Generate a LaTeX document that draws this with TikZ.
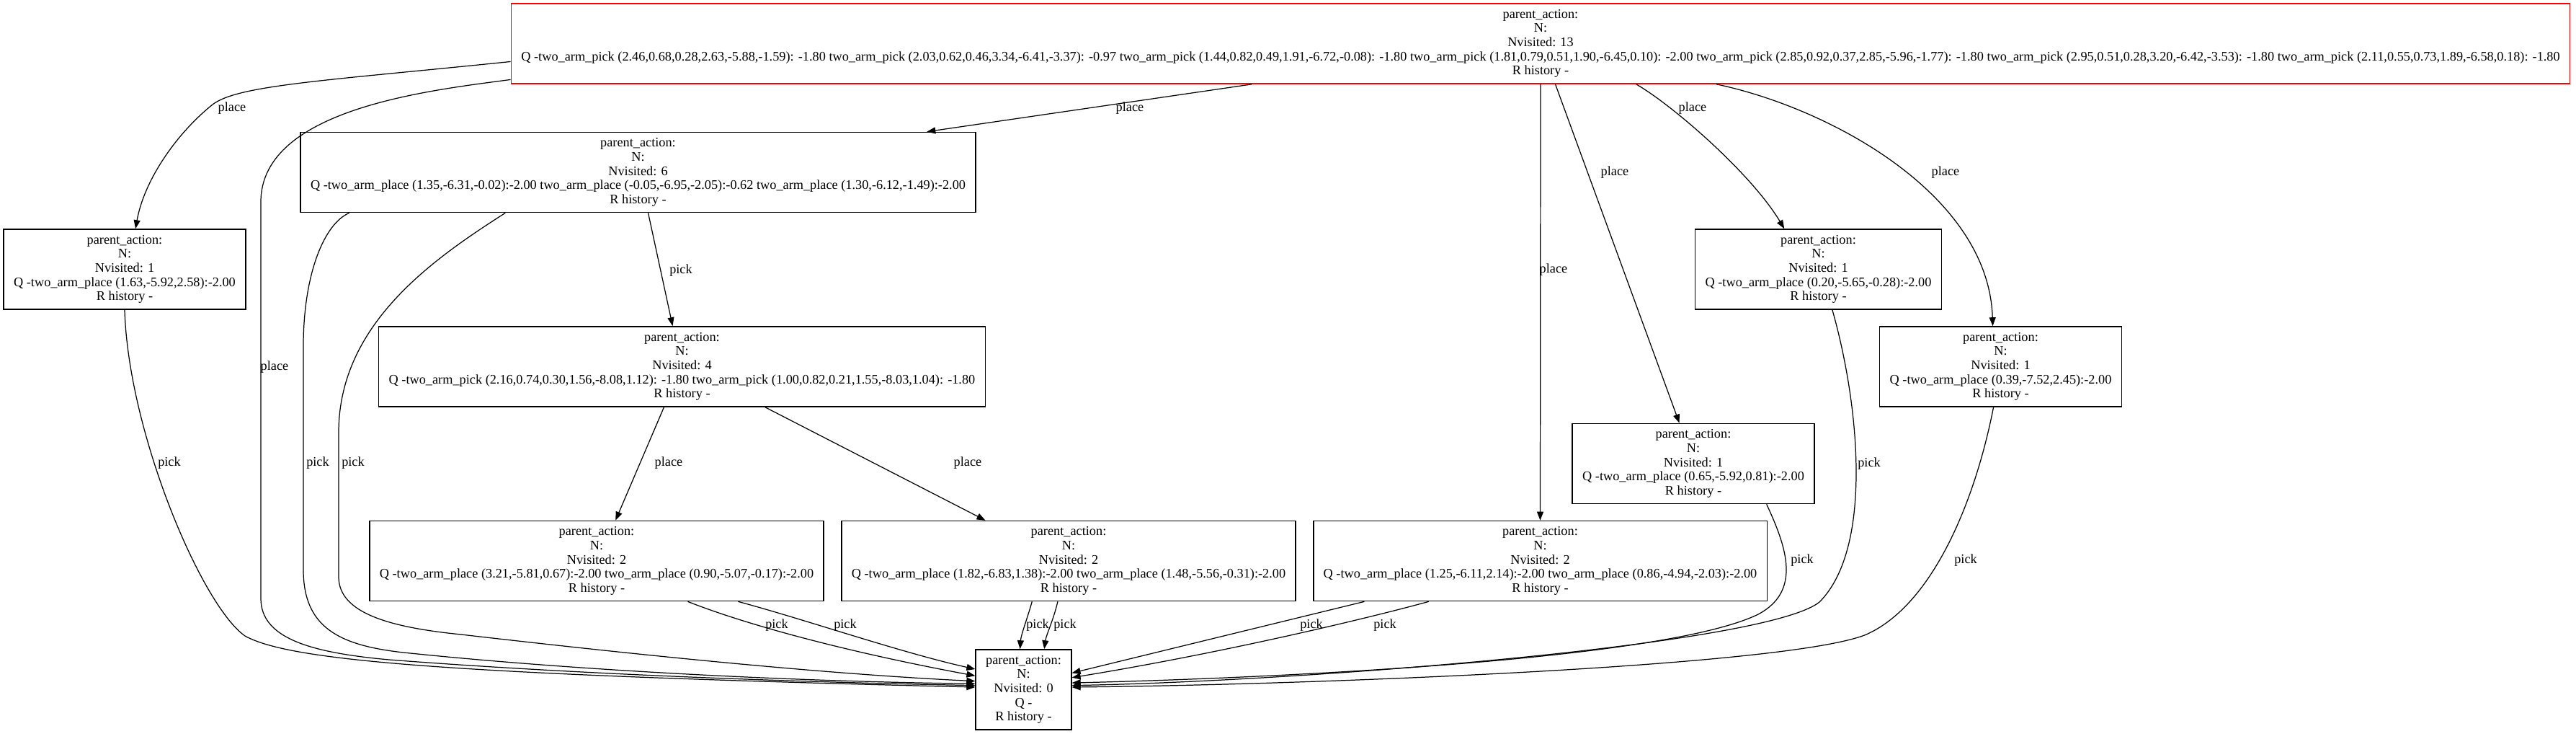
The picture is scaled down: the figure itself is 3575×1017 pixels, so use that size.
\documentclass[tikz,border=0pt]{standalone}
\usepackage{fontspec}
\setmainfont{Liberation Serif}
\usetikzlibrary{arrows.meta}

\begin{document}
\begin{tikzpicture}[x=0.01cm, y=-0.01cm, font=\fontsize{5.2}{5.6}\selectfont]

\useasboundingbox (0,0) rectangle (3575,1017);

\begin{scope}[every node/.style={rectangle,draw,line width=0.45pt,align=center,inner xsep=0.14cm,inner ysep=0pt,minimum height=1.11cm}]
    \node (root) at (2138, 60.5) [draw=red] {parent\_action:\\N:\\Nvisited: 13\\Q -two\_arm\_pick (2.46,0.68,0.28,2.63,-5.88,-1.59): -1.80 two\_arm\_pick (2.03,0.62,0.46,3.34,-6.41,-3.37): -0.97 two\_arm\_pick (1.44,0.82,0.49,1.91,-6.72,-0.08): -1.80 two\_arm\_pick (1.81,0.79,0.51,1.90,-6.45,0.10): -2.00 two\_arm\_pick (2.85,0.92,0.37,2.85,-5.96,-1.77): -1.80 two\_arm\_pick (2.95,0.51,0.28,3.20,-6.42,-3.53): -1.80 two\_arm\_pick (2.11,0.55,0.73,1.89,-6.58,0.18): -1.80\\R history -};

    \node (n6) at (885.5, 239) {parent\_action:\\N:\\Nvisited: 6\\Q -two\_arm\_place (1.35,-6.31,-0.02):-2.00 two\_arm\_place (-0.05,-6.95,-2.05):-0.62 two\_arm\_place (1.30,-6.12,-1.49):-2.00\\R history -};

    \node (n1) at (173, 373.5) {parent\_action:\\N:\\Nvisited: 1\\Q -two\_arm\_place (1.63,-5.92,2.58):-2.00\\R history -};
    \node (n1a) at (2523.5, 373.5) {parent\_action:\\N:\\Nvisited: 1\\Q -two\_arm\_place (0.20,-5.65,-0.28):-2.00\\R history -};

    \node (n4) at (946.5, 508.5) {parent\_action:\\N:\\Nvisited: 4\\Q -two\_arm\_pick (2.16,0.74,0.30,1.56,-8.08,1.12): -1.80 two\_arm\_pick (1.00,0.82,0.21,1.55,-8.03,1.04): -1.80\\R history -};
    \node (n1b) at (2776.5, 508.5) {parent\_action:\\N:\\Nvisited: 1\\Q -two\_arm\_place (0.39,-7.52,2.45):-2.00\\R history -};

    \node (n1c) at (2350, 643) {parent\_action:\\N:\\Nvisited: 1\\Q -two\_arm\_place (0.65,-5.92,0.81):-2.00\\R history -};

    \node (n2a) at (828, 778) {parent\_action:\\N:\\Nvisited: 2\\Q -two\_arm\_place (3.21,-5.81,0.67):-2.00 two\_arm\_place (0.90,-5.07,-0.17):-2.00\\R history -};
    \node (n2b) at (1483, 778) {parent\_action:\\N:\\Nvisited: 2\\Q -two\_arm\_place (1.82,-6.83,1.38):-2.00 two\_arm\_place (1.48,-5.56,-0.31):-2.00\\R history -};
    \node (n2c) at (2137.5, 778) {parent\_action:\\N:\\Nvisited: 2\\Q -two\_arm\_place (1.25,-6.11,2.14):-2.00 two\_arm\_place (0.86,-4.94,-2.03):-2.00\\R history -};

    \node (leaf) at (1420.5, 956.5) {parent\_action:\\N:\\Nvisited: 0\\Q -\\R history -};
\end{scope}

\begin{scope}[>={Stealth[black,length=0.12cm,width=0.09cm,inset=0pt]},
              every node/.style={inner sep=0pt},
              every path/.style={line width=0.35pt}]
    \draw [->] (root.181.6) .. controls (450,112) and (330,118) .. (295,145) .. controls (245,185) and (200,250) .. (n1.75) node at (322,150) {place};
    \draw [->] (root.182.5) .. controls (600,125) and (362,150) .. (362,280) -- (362,830) .. controls (362,885) and (430,905) .. (540,915) .. controls (800,935) and (1100,946) .. (leaf.175.5) node at (381,509) {place};
    \draw [->] (root.188.2) -- (n6.8) node at (1568,150) {place};
    \draw [->] (root.south) -- (n2c.north) node at (2156,374) {place};
    \draw [->] (root.-70.2) -- (n1c.109.1) node at (2241,239) {place};
    \draw [->] (root.-23.4) .. controls (2320,145) and (2430,240) .. (n1a.130) node at (2349,150) {place};
    \draw [->] (root.-13.7) .. controls (2540,150) and (2760,270) .. (n1b.101.7) node at (2700,239) {place};

    \draw [->] (n6.-76.2) -- (n4.103.7) node at (945,375) {pick};
    \draw [->] (n6.188.3) .. controls (450,310) and (421,380) .. (421,480) -- (421,790) .. controls (421,870) and (470,895) .. (560,905) .. controls (800,930) and (1100,945) .. (leaf.173) node at (441,642) {pick};
    \draw [->] (n6.197.8) .. controls (600,360) and (470,450) .. (470,600) -- (470,800) .. controls (470,850) and (540,870) .. (640,880) .. controls (900,910) and (1150,935) .. (leaf.170) node at (490,642) {pick};

    \draw [->] (n1.south) .. controls (178,600) and (280,840) .. (340,882) .. controls (400,915) and (600,935) .. (leaf.177.8) node at (235,642) {pick};

    \draw [->] (n4.-114.7) -- (n2a.65.1) node at (928,642) {place};
    \draw [->] (n4.-26.9) -- (n2b.154.4) node at (1343,642) {place};

    \draw [->] (n2a.-24.6) .. controls (1040,868) and (1180,905) .. (leaf.164.2) node at (1078,867) {pick};
    \draw [->] (n2a.-16.3) .. controls (1120,860) and (1250,905) .. (leaf.157.2) node at (1173,867) {pick};
    \draw [->] (n2b.-132.3) .. controls (1425,860) and (1417,880) .. (leaf.95.7) node at (1440,867) {pick};
    \draw [->] (n2b.-105.3) .. controls (1462,860) and (1452,880) .. (leaf.63.6) node at (1478,867) {pick};
    \draw [->] (n2c.193.6) -- (leaf.19.7) node at (1820,867) {pick};
    \draw [->] (n2c.200.3) .. controls (1900,857) and (1700,905) .. (leaf.14.1) node at (1922,867) {pick};

    \draw [->] (n1c.-29.8) .. controls (2480,760) and (2500,820) .. (2440,852) .. controls (2300,920) and (1700,942) .. (leaf.8.3) node at (2501,777) {pick};
    \draw [->] (n1a.-71.6) .. controls (2580,560) and (2600,760) .. (2525,835) .. controls (2450,895) and (1800,945) .. (leaf.5.7) node at (2594,643) {pick};
    \draw [->] (n1b.-100.7) .. controls (2740,700) and (2680,840) .. (2590,880) .. controls (2480,925) and (1800,950) .. (leaf.3.1) node at (2728,777) {pick};
\end{scope}

\end{tikzpicture}
\end{document}
